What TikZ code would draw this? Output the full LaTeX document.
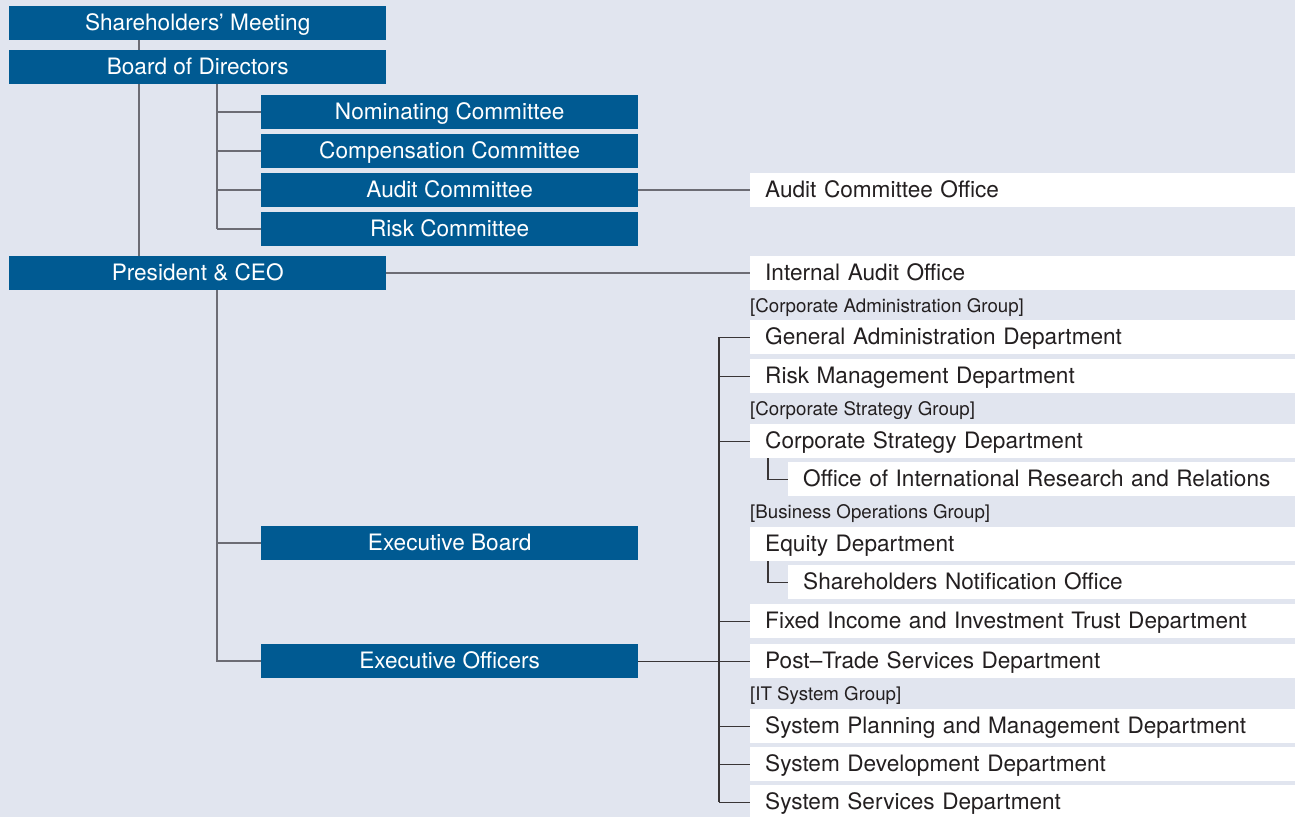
\documentclass[tikz,border=0pt]{standalone}
\usepackage{fontspec}
\setmainfont{TeX Gyre Heros}
\usetikzlibrary{positioning}
\definecolor{orgblue}{RGB}{0,90,146}
\definecolor{orgback}{RGB}{225,229,239}
\definecolor{orgline}{RGB}{108,108,116}
\definecolor{orgtext}{RGB}{35,31,32}
\tikzset{
    bluebox/.style={fill=orgblue,text=white,minimum width=377pt,minimum height=34pt,inner sep=0pt,
        text height=17pt,text depth=2pt,font=\fontsize{22.6}{26}\selectfont,anchor=north west},
    unitbox/.style={fill=white,text=orgtext,text width=515pt,inner xsep=15pt,inner ysep=0pt,
        minimum height=34pt,align=left,text height=17pt,text depth=2pt,
        font=\fontsize{22.6}{26}\selectfont,anchor=north west},
    subbox/.style={unitbox,text width=477pt},
    grouplabel/.style={text=orgtext,inner sep=0pt,anchor=west,text height=14pt,text depth=1pt,
        font=\fontsize{18.7}{22}\selectfont},
    link/.style={draw=orgline,line width=1.5pt},
    unitlink/.style={draw=orgtext!90,line width=1.1pt}
}
\begin{document}
\begin{tikzpicture}[x=1pt,y=-1pt]
        \useasboundingbox[fill=orgback] (0,0) rectangle (1295,817);
        % governance
        \node[bluebox] (meeting) at (9,6) {Shareholders’ Meeting};
        \node[bluebox] (board) at (9,50) {Board of Directors};
        \node[bluebox] (ceo) at (9,256) {President \& CEO};
        \node[bluebox] (nom) at (261,95) {Nominating Committee};
        \node[bluebox] (comp) at (261,134) {Compensation Committee};
        \node[bluebox] (audit) at (261,173) {Audit Committee};
        \node[bluebox] (risk) at (261,212) {Risk Committee};
        \node[bluebox] (exboard) at (261,526) {Executive Board};
        \node[bluebox] (exoff) at (261,644) {Executive Officers};
        % offices and departments
        \node[unitbox] (aco) at (750,173) {Audit Committee Office};
        \node[unitbox] (iao) at (750,256) {Internal Audit Office};
        \node[grouplabel] (gadmin) at (750,305.5) {[Corporate Administration Group]};
        \node[unitbox] (gad) at (750,320) {General Administration Department};
        \node[unitbox] (rmd) at (750,359) {Risk Management Department};
        \node[grouplabel] (gstrat) at (750,409) {[Corporate Strategy Group]};
        \node[unitbox] (csd) at (750,424) {Corporate Strategy Department};
        \node[subbox] (oir) at (788,462) {Office of International Research and Relations};
        \node[grouplabel] (gbiz) at (750,512) {[Business Operations Group]};
        \node[unitbox] (eqd) at (750,527) {Equity Department};
        \node[subbox] (sno) at (788,565) {Shareholders Notification Office};
        \node[unitbox] (fid) at (750,604) {Fixed Income and Investment Trust Department};
        \node[unitbox] (ptd) at (750,644) {Post--Trade Services Department};
        \node[grouplabel] (git) at (750,694) {[IT System Group]};
        \node[unitbox] (spd) at (750,709) {System Planning and Management Department};
        \node[unitbox] (sdd) at (750,747) {System Development Department};
        \node[unitbox] (ssd) at (750,785) {System Services Department};
        % connectors
        \draw[link] ([xshift=-58.5pt]meeting.south) -- ([xshift=-58.5pt]board.north);
        \draw[link] ([xshift=-58.5pt]board.south) -- ([xshift=-58.5pt]ceo.north);
        \coordinate (bj) at ([xshift=19.5pt]board.south);
        \draw[link] (bj) -- (bj |- risk.west);
        \foreach \n in {nom,comp,audit,risk}
            \draw[link] (bj |- \n.west) -- (\n.west);
        \coordinate (cj) at ([xshift=19.5pt]ceo.south);
        \draw[link] (cj) |- (exoff.west);
        \draw[link] (cj |- exboard.west) -- (exboard.west);
        \draw[link] (audit.east) -- (aco.west);
        \draw[link] (ceo.east) -- (iao.west);
        \coordinate (uj) at ([xshift=-31pt]gad.west);
        \draw[unitlink] (uj) -- (uj |- ssd.west);
        \foreach \n in {gad,rmd,csd,fid,ptd,spd,sdd,ssd}
            \draw[unitlink] (uj |- \n.west) -- (\n.west);
        \draw[unitlink] (exoff.east) -- (ptd.west);
        \draw[unitlink] ([xshift=18pt]csd.south west) |- (oir.west);
        \draw[unitlink] ([xshift=18pt]eqd.south west) |- (sno.west);
\end{tikzpicture}
\end{document}
